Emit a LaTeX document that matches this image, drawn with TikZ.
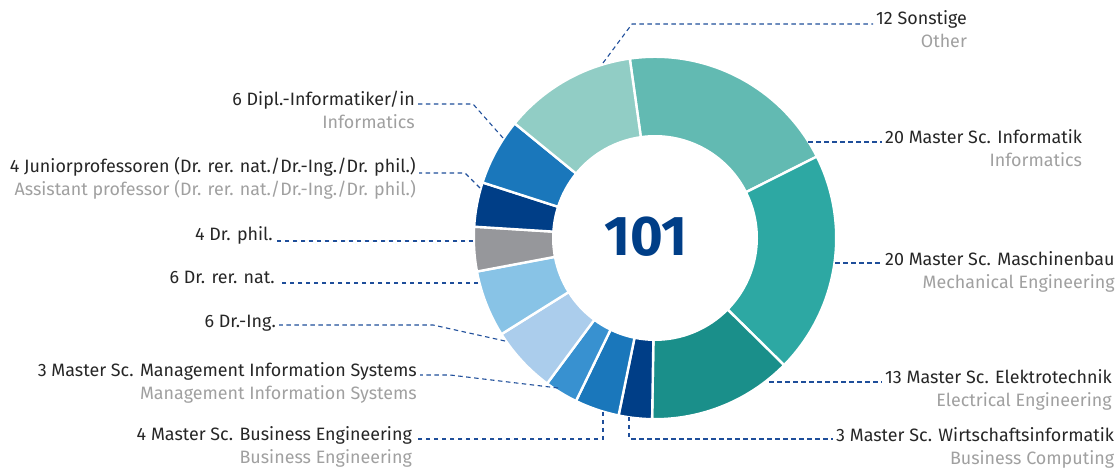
\documentclass[tikz,border=0pt]{standalone}
\usepackage{fontspec}
\setmainfont{Fira Sans}
\usepackage{tikz}

\definecolor{sonstige}{HTML}{91CDC5}
\definecolor{informatik}{HTML}{62BAB2}
\definecolor{maschbau}{HTML}{2DA8A3}
\definecolor{etechnik}{HTML}{1A8F8A}
\definecolor{navy}{HTML}{003E87}
\definecolor{midblue}{HTML}{1A77BB}
\definecolor{misblue}{HTML}{3891D0}
\definecolor{dring}{HTML}{ABCDEC}
\definecolor{rernat}{HTML}{88C3E6}
\definecolor{phil}{HTML}{96979B}
\definecolor{leaderblue}{HTML}{1F4E9A}
\definecolor{maintext}{HTML}{262626}
\definecolor{subtext}{HTML}{A0A0A0}

\begin{document}
\begin{tikzpicture}[x=1pt,y=1pt,
	seg/.style={draw=white, line width=2.4pt, line join=miter},
	lbl/.style={inner sep=3pt, text=maintext, font=\fontsize{17.9}{21}\selectfont},
	sublbl/.style={inner sep=3pt, text=subtext, font=\fontsize{17.9}{21}\selectfont},
	leader/.style={leaderblue, line width=1.1pt, dash pattern=on 4.5pt off 3.5pt}]
	\useasboundingbox (0,0) rectangle (1119,470);
	%\draw[help lines] (0,0) grid[step=50] (1119,470);

	% ring, 101 in total, clockwise from the top
	\begin{scope}[shift={(655,232)}]
	\filldraw[seg, fill=informatik] (98:181.2) arc[start angle=98, end angle=26.71, radius=181.2] -- (26.71:101.8) arc[start angle=26.71, end angle=98, radius=101.8] -- cycle;
	\filldraw[seg, fill=maschbau] (26.71:181.2) arc[start angle=26.71, end angle=-44.57, radius=181.2] -- (-44.57:101.8) arc[start angle=-44.57, end angle=26.71, radius=101.8] -- cycle;
	\filldraw[seg, fill=etechnik] (-44.57:181.2) arc[start angle=-44.57, end angle=-90.91, radius=181.2] -- (-90.91:101.8) arc[start angle=-90.91, end angle=-44.57, radius=101.8] -- cycle;
	\filldraw[seg, fill=navy] (-90.91:181.2) arc[start angle=-90.91, end angle=-101.60, radius=181.2] -- (-101.60:101.8) arc[start angle=-101.60, end angle=-90.91, radius=101.8] -- cycle;
	\filldraw[seg, fill=midblue] (-101.60:181.2) arc[start angle=-101.60, end angle=-115.86, radius=181.2] -- (-115.86:101.8) arc[start angle=-115.86, end angle=-101.60, radius=101.8] -- cycle;
	\filldraw[seg, fill=misblue] (-115.86:181.2) arc[start angle=-115.86, end angle=-126.55, radius=181.2] -- (-126.55:101.8) arc[start angle=-126.55, end angle=-115.86, radius=101.8] -- cycle;
	\filldraw[seg, fill=dring] (-126.55:181.2) arc[start angle=-126.55, end angle=-147.94, radius=181.2] -- (-147.94:101.8) arc[start angle=-147.94, end angle=-126.55, radius=101.8] -- cycle;
	\filldraw[seg, fill=rernat] (-147.94:181.2) arc[start angle=-147.94, end angle=-169.33, radius=181.2] -- (-169.33:101.8) arc[start angle=-169.33, end angle=-147.94, radius=101.8] -- cycle;
	\filldraw[seg, fill=phil] (-169.33:181.2) arc[start angle=-169.33, end angle=-183.58, radius=181.2] -- (-183.58:101.8) arc[start angle=-183.58, end angle=-169.33, radius=101.8] -- cycle;
	\filldraw[seg, fill=navy] (-183.58:181.2) arc[start angle=-183.58, end angle=-197.84, radius=181.2] -- (-197.84:101.8) arc[start angle=-197.84, end angle=-183.58, radius=101.8] -- cycle;
	\filldraw[seg, fill=midblue] (-197.84:181.2) arc[start angle=-197.84, end angle=-219.23, radius=181.2] -- (-219.23:101.8) arc[start angle=-219.23, end angle=-197.84, radius=101.8] -- cycle;
	\filldraw[seg, fill=sonstige] (-219.23:181.2) arc[start angle=-219.23, end angle=-262, radius=181.2] -- (-262:101.8) arc[start angle=-262, end angle=-219.23, radius=101.8] -- cycle;
	\end{scope}

	\node[text=navy, inner sep=0pt, font=\fontsize{56}{62}\bfseries\selectfont] (total) at (646,233) {101};

	% right side
	\node[lbl, anchor=base west] (son) at (873,445) {12 Sonstige};
	\node[sublbl, anchor=base east, yshift=-23pt] (son-en) at (son.base east) {Other};
	\node[lbl, anchor=base west] (inf) at (882,326) {20 Master Sc. Informatik};
	\node[sublbl, anchor=base east, yshift=-23pt] (inf-en) at (inf.base east) {Informatics};
	\node[lbl, anchor=base west] (mb) at (882,204) {20 Master Sc. Maschinenbau};
	\node[sublbl, anchor=base east, yshift=-23pt] (mb-en) at (mb.base east) {Mechanical Engineering};
	\node[lbl, anchor=base west] (et) at (882,86) {13 Master Sc. Elektrotechnik};
	\node[sublbl, anchor=base east, yshift=-23pt] (et-en) at (et.base east) {Electrical Engineering};
	\node[lbl, anchor=base west] (winf) at (833,28) {3 Master Sc. Wirtschaftsinformatik};
	\node[sublbl, anchor=base east, yshift=-23pt] (winf-en) at (winf.base east) {Business Computing};

	% left side
	\node[lbl, anchor=base east] (dipl) at (418,364) {6 Dipl.-Informatiker/in};
	\node[sublbl, anchor=base east, yshift=-23pt] (dipl-en) at (dipl.base east) {Informatics};
	\node[lbl, anchor=base east] (jun) at (419,297) {4 Juniorprofessoren (Dr. rer. nat./Dr.-Ing./Dr. phil.)};
	\node[sublbl, anchor=base east, yshift=-23pt] (jun-en) at (jun.base east) {Assistant professor (Dr. rer. nat./Dr.-Ing./Dr. phil.)};
	\node[lbl, anchor=base east] (phil) at (276,229) {4 Dr. phil.};
	\node[lbl, anchor=base east] (rn) at (278,186) {6 Dr. rer. nat.};
	\node[lbl, anchor=base east] (ing) at (279,142) {6 Dr.-Ing.};
	\node[lbl, anchor=base east] (mis) at (420,93) {3 Master Sc. Management Information Systems};
	\node[sublbl, anchor=base east, yshift=-23pt] (mis-en) at (mis.base east) {Management Information Systems};
	\node[lbl, anchor=base east] (be) at (415,29) {4 Master Sc. Business Engineering};
	\node[sublbl, anchor=base east, yshift=-23pt] (be-en) at (be.base east) {Business Engineering};

	% leader lines
	\coordinate (son-a) at (603,407);
	\coordinate (son-b) at (632,446);
	\coordinate (inf-a) at (808,328);
	\coordinate (mb-a) at (835,207);
	\coordinate (et-a) at (769,88);
	\coordinate (winf-a) at (629,53);
	\coordinate (winf-b) at (629,31);
	\coordinate (dipl-a) at (503,332);
	\coordinate (dipl-b) at (473,366);
	\coordinate (jun-a) at (480,282);
	\coordinate (jun-b) at (465,297);
	\coordinate (phil-a) at (473,229);
	\coordinate (rn-a) at (478,187);
	\coordinate (ing-a) at (505,129);
	\coordinate (ing-b) at (433,145);
	\coordinate (mis-a) at (558,82);
	\coordinate (mis-b) at (450,95);
	\coordinate (be-a) at (603,58);
	\coordinate (be-b) at (603,31);

	\draw[leader] (son-a) -- (son-b) -- (son-b -| son.west);
	\draw[leader] (inf-a) -- (inf-a -| inf.west);
	\draw[leader] (mb-a) -- (mb-a -| mb.west);
	\draw[leader] (et-a) -- (et-a -| et.west);
	\draw[leader] (winf-a) -- (winf-b) -- (winf-b -| winf.west);
	\draw[leader] (dipl-a) -- (dipl-b) -- (dipl-b -| dipl.east);
	\draw[leader] (jun-a) -- (jun-b) -- (jun-b -| jun.east);
	\draw[leader] (phil-a) -- (phil-a -| phil.east);
	\draw[leader] (rn-a) -- (rn-a -| rn.east);
	\draw[leader] (ing-a) -- (ing-b) -- (ing-b -| ing.east);
	\draw[leader] (mis-a) -- (mis-b) -- (mis-b -| mis.east);
	\draw[leader] (be-a) -- (be-b) -- (be-b -| be.east);
\end{tikzpicture}
\end{document}
